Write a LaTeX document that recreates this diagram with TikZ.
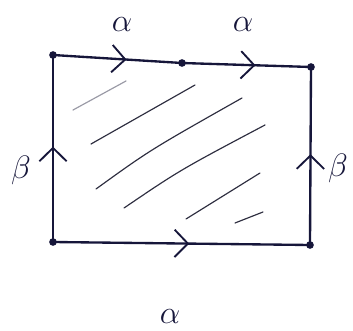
\documentclass[tikz,border=0pt]{standalone}
\usepackage{amsmath,amssymb}
\usepackage{xcolor}
\usepackage{tikz}
\usetikzlibrary{arrows.meta,decorations.markings,calc}
\definecolor{ink}{HTML}{16163A}
\definecolor{pencil}{HTML}{2E2E40}
\definecolor{faint}{HTML}{9A9AA6}
\tikzset{
  edge/.style={draw=ink,line width=2pt},
  midarrow/.style={postaction={decorate},decoration={markings,
    mark=at position #1 with {\arrow[ink,line width=1.6pt]{Straight Barb[length=4mm,width=8.2mm]}}}},
  vertex/.style={circle,fill=ink,inner sep=0pt,minimum size=2.3mm},
  hatch/.style={pencil,line width=1pt,line cap=round},
  lbl/.style={ink,font=\LARGE,scale=1.6},
}

\begin{document}
\begin{tikzpicture}[x=0.03cm,y=-0.03cm]
  \useasboundingbox (0,0) rectangle (353,331);
  % corners and the middle point of the top side
  \node[vertex] (tl) at (53,55) {};
  \node[vertex] (tm) at (182,63) {};
  \node[vertex] (tr) at (311,67) {};
  \node[vertex] (bl) at (53,242) {};
  \node[vertex] (br) at (310,245) {};
  % shading inside
  \draw[hatch,faint] (73,110) -- (126,81);
  \draw[hatch] (91,144) -- (195,85);
  \draw[hatch] (96,189) .. controls (150,150) .. (242,98);
  \draw[hatch] (124,208) .. controls (180,170) .. (265,125);
  \draw[hatch] (186,219) -- (260,173);
  \draw[hatch] (235,223) -- (263,212);
  % sides
  \draw[edge,midarrow=0.57] (tl.center) -- (tm.center);
  \draw[edge,midarrow=0.57] (tm.center) -- (tr.center);
  \draw[edge,midarrow=0.53] (bl.center) -- (br.center);
  \draw[edge,midarrow=0.51] (bl.center) -- (tl.center);
  \draw[edge,midarrow=0.51] (br.center) -- (tr.center);
  % labels
  \node[lbl] (a1) at (122,25) {$\alpha$};
  \node[lbl] (a2) at (243,25) {$\alpha$};
  \node[lbl] (b1) at (21,170) {$\beta$};
  \node[lbl] (b2) at (338,168) {$\beta$};
  \node[lbl] (a3) at (170,317) {$\alpha$};
\end{tikzpicture}
\end{document}
